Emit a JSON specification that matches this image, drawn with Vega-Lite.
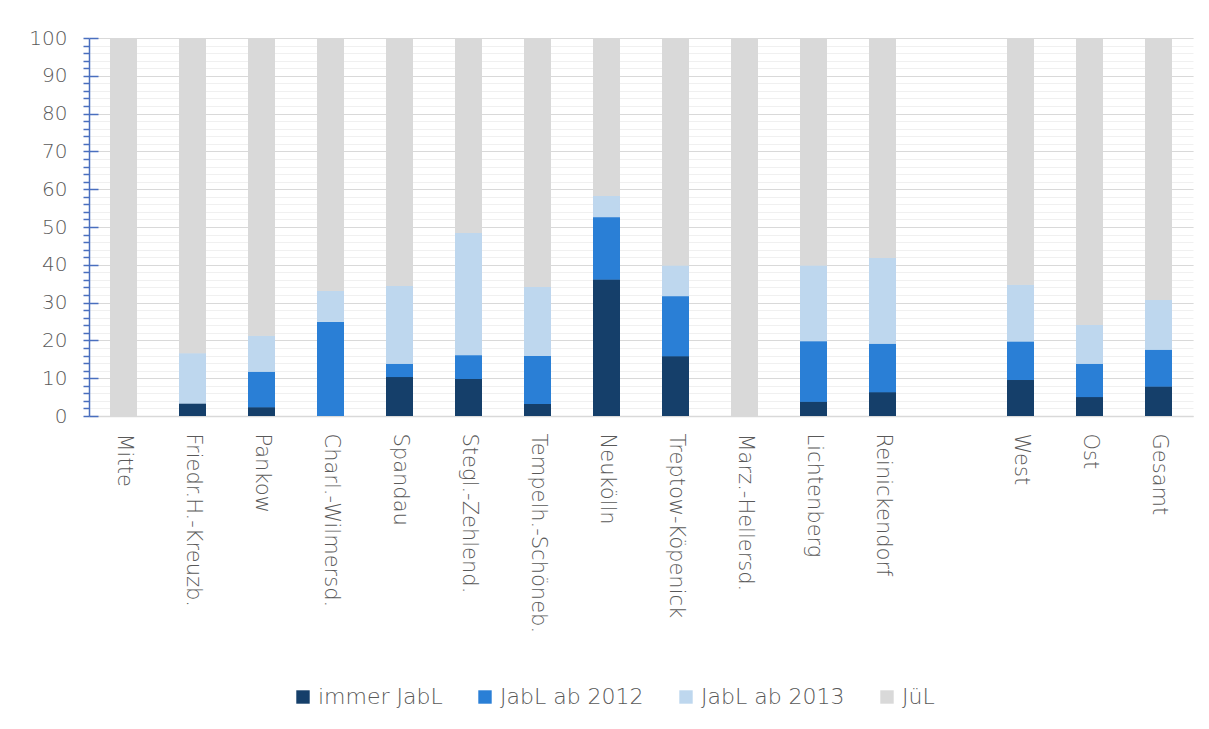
{
  "$schema": "https://vega.github.io/schema/vega-lite/v6.json",
  "autosize": {"type": "none"},
  "width": 1104,
  "height": 378,
  "padding": {"left": 89, "top": 38, "right": 16, "bottom": 313},
  "background": "white",
  "config": {
    "view": {"stroke": null},
    "font": "DejaVu Sans",
    "axis": {"labelFont": "DejaVu Sans", "labelColor": "#595959", "labelFontWeight": 200}
  },
  "datasets": {
    "series": [
      {"s": "immer JabL", "rank": 1},
      {"s": "JabL ab 2012", "rank": 2},
      {"s": "JabL ab 2013", "rank": 3},
      {"s": "JüL", "rank": 4}
    ]
  },
  "data": {"values": [
    {"d": "Mitte", "s": "immer JabL", "v": 0}, {"d": "Mitte", "s": "JabL ab 2012", "v": 0}, {"d": "Mitte", "s": "JabL ab 2013", "v": 0}, {"d": "Mitte", "s": "JüL", "v": 100},
    {"d": "Friedr.H.-Kreuzb.", "s": "immer JabL", "v": 3.3}, {"d": "Friedr.H.-Kreuzb.", "s": "JabL ab 2012", "v": 0}, {"d": "Friedr.H.-Kreuzb.", "s": "JabL ab 2013", "v": 13.3}, {"d": "Friedr.H.-Kreuzb.", "s": "JüL", "v": 83.4},
    {"d": "Pankow", "s": "immer JabL", "v": 2.3}, {"d": "Pankow", "s": "JabL ab 2012", "v": 9.4}, {"d": "Pankow", "s": "JabL ab 2013", "v": 9.5}, {"d": "Pankow", "s": "JüL", "v": 78.8},
    {"d": "Charl.-Wilmersd.", "s": "immer JabL", "v": 0}, {"d": "Charl.-Wilmersd.", "s": "JabL ab 2012", "v": 24.9}, {"d": "Charl.-Wilmersd.", "s": "JabL ab 2013", "v": 8.2}, {"d": "Charl.-Wilmersd.", "s": "JüL", "v": 66.9},
    {"d": "Spandau", "s": "immer JabL", "v": 10.3}, {"d": "Spandau", "s": "JabL ab 2012", "v": 3.5}, {"d": "Spandau", "s": "JabL ab 2013", "v": 20.6}, {"d": "Spandau", "s": "JüL", "v": 65.6},
    {"d": "Stegl.-Zehlend.", "s": "immer JabL", "v": 9.8}, {"d": "Stegl.-Zehlend.", "s": "JabL ab 2012", "v": 6.3}, {"d": "Stegl.-Zehlend.", "s": "JabL ab 2013", "v": 32.3}, {"d": "Stegl.-Zehlend.", "s": "JüL", "v": 51.6},
    {"d": "Tempelh.-Schöneb.", "s": "immer JabL", "v": 3.2}, {"d": "Tempelh.-Schöneb.", "s": "JabL ab 2012", "v": 12.7}, {"d": "Tempelh.-Schöneb.", "s": "JabL ab 2013", "v": 18.2}, {"d": "Tempelh.-Schöneb.", "s": "JüL", "v": 65.9},
    {"d": "Neukölln", "s": "immer JabL", "v": 36.1}, {"d": "Neukölln", "s": "JabL ab 2012", "v": 16.5}, {"d": "Neukölln", "s": "JabL ab 2013", "v": 5.6}, {"d": "Neukölln", "s": "JüL", "v": 41.8},
    {"d": "Treptow-Köpenick", "s": "immer JabL", "v": 15.8}, {"d": "Treptow-Köpenick", "s": "JabL ab 2012", "v": 15.9}, {"d": "Treptow-Köpenick", "s": "JabL ab 2013", "v": 8.1}, {"d": "Treptow-Köpenick", "s": "JüL", "v": 60.2},
    {"d": "Marz.-Hellersd.", "s": "immer JabL", "v": 0}, {"d": "Marz.-Hellersd.", "s": "JabL ab 2012", "v": 0}, {"d": "Marz.-Hellersd.", "s": "JabL ab 2013", "v": 0}, {"d": "Marz.-Hellersd.", "s": "JüL", "v": 100},
    {"d": "Lichtenberg", "s": "immer JabL", "v": 3.8}, {"d": "Lichtenberg", "s": "JabL ab 2012", "v": 16.0}, {"d": "Lichtenberg", "s": "JabL ab 2013", "v": 20.0}, {"d": "Lichtenberg", "s": "JüL", "v": 60.2},
    {"d": "Reinickendorf", "s": "immer JabL", "v": 6.3}, {"d": "Reinickendorf", "s": "JabL ab 2012", "v": 12.8}, {"d": "Reinickendorf", "s": "JabL ab 2013", "v": 22.7}, {"d": "Reinickendorf", "s": "JüL", "v": 58.2},
    {"d": "West", "s": "immer JabL", "v": 9.5}, {"d": "West", "s": "JabL ab 2012", "v": 10.2}, {"d": "West", "s": "JabL ab 2013", "v": 15.0}, {"d": "West", "s": "JüL", "v": 65.3},
    {"d": "Ost", "s": "immer JabL", "v": 5.0}, {"d": "Ost", "s": "JabL ab 2012", "v": 8.8}, {"d": "Ost", "s": "JabL ab 2013", "v": 10.3}, {"d": "Ost", "s": "JüL", "v": 75.9},
    {"d": "Gesamt", "s": "immer JabL", "v": 7.8}, {"d": "Gesamt", "s": "JabL ab 2012", "v": 9.7}, {"d": "Gesamt", "s": "JabL ab 2013", "v": 13.2}, {"d": "Gesamt", "s": "JüL", "v": 69.3}
  ]},
  "transform": [
    {"lookup": "s", "from": {"data": {"name": "series"}, "key": "s", "fields": ["rank"]}}
  ],
  "encoding": {
    "x": {
      "field": "d", "type": "nominal", "title": null,
      "scale": {
        "domain": ["Mitte", "Friedr.H.-Kreuzb.", "Pankow", "Charl.-Wilmersd.", "Spandau", "Stegl.-Zehlend.", "Tempelh.-Schöneb.", "Neukölln", "Treptow-Köpenick", "Marz.-Hellersd.", "Lichtenberg", "Reinickendorf", " ", "West", "Ost", "Gesamt"],
        "paddingInner": 0.61, "paddingOuter": 0.305
      },
      "axis": {
        "labelAngle": 90, "labelAlign": "left", "labelBaseline": "middle",
        "labelFontSize": 21, "labelPadding": 17, "labelLimit": 0, "ticks": false,
        "domainColor": "#d9d9d9", "domainWidth": 1.5, "grid": false
      }
    },
    "order": {"field": "rank", "type": "quantitative"},
    "color": {
      "field": "s", "type": "nominal",
      "scale": {
        "domain": ["immer JabL", "JabL ab 2012", "JabL ab 2013", "JüL"],
        "range": ["#153f6a", "#2a7fd6", "#bed7ee", "#d9d9d9"]
      },
      "legend": {
        "title": null, "orient": "none", "direction": "horizontal",
        "legendX": 203, "legendY": 648,
        "symbolType": "square", "symbolSize": 180, "symbolStrokeWidth": 0,
        "labelFontSize": 22, "labelColor": "#595959", "labelFont": "DejaVu Sans", "labelFontWeight": 200,
        "columnPadding": 31, "labelOffset": 4, "labelLimit": 0
      }
    }
  },
  "layer": [
    {
      "mark": {"type": "bar"},
      "encoding": {
        "y": {
          "field": "v", "type": "quantitative", "stack": "zero", "title": null,
          "scale": {"domain": [0, 100], "nice": false},
          "axis": {
            "values": [0, 2, 4, 6, 8, 10, 12, 14, 16, 18, 20, 22, 24, 26, 28, 30, 32, 34, 36, 38, 40, 42, 44, 46, 48, 50, 52, 54, 56, 58, 60, 62, 64, 66, 68, 70, 72, 74, 76, 78, 80, 82, 84, 86, 88, 90, 92, 94, 96, 98, 100],
            "labels": false, "grid": true, "gridColor": "#f0f0f0", "gridWidth": 1,
            "tickColor": "#4a6fbf", "tickSize": 6, "tickWidth": 1.5,
            "domainColor": "#4a6fbf", "domainWidth": 1.5, "orient": "left"
          }
        }
      }
    },
    {
      "mark": {"type": "bar"},
      "encoding": {
        "y": {
          "field": "v", "type": "quantitative", "stack": "zero", "title": null,
          "scale": {"domain": [0, 100], "nice": false},
          "axis": {
            "values": [0, 10, 20, 30, 40, 50, 60, 70, 80, 90, 100],
            "labelFontSize": 20, "labelPadding": 31, "grid": true, "gridColor": "#d9d9d9", "gridWidth": 1.2,
            "tickColor": "#4a6fbf", "tickSize": -9, "tickWidth": 1.5,
            "domain": false, "orient": "left"
          }
        }
      }
    }
  ],
  "resolve": {"axis": {"y": "independent"}}
}
